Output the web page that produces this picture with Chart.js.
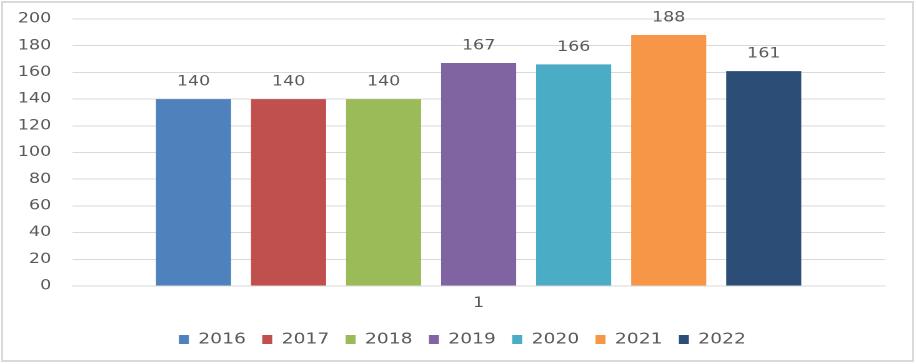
<!DOCTYPE html>
<html>
<head>
<meta charset="utf-8">
<script src="https://cdn.jsdelivr.net/npm/chart.js@4.4.0/dist/chart.umd.min.js"></script>
<style>
  html, body { margin: 0; padding: 0; background: #fff; overflow: hidden; }
  #frame {
    position: absolute; left: 1px; top: 1px; width: 909px; height: 357px;
    border: 2px solid #d9d9d9; pointer-events: none;
  }
  #wrap {
    position: absolute; left: 0; top: 0; width: 733px; height: 364px;
    transform: scaleX(1.2497); transform-origin: 0 0;
  }
</style>
</head>
<body>
<div id="wrap"><canvas id="myChart"></canvas></div>
<div id="frame"></div>
<script>
const categories = ["1"];
const years = ["2016", "2017", "2018", "2019", "2020", "2021", "2022"];
const values = [140, 140, 140, 167, 166, 188, 161];
const yTicks = [0, 20, 40, 60, 80, 100, 120, 140, 160, 180, 200];

const palette = ['#4F81BD', '#C0504D', '#9BBB59', '#8064A2', '#4BACC6', '#F79646', '#2C4D75'];
const textColor = '#595959';
const gridColor = '#d9d9d9';

Chart.defaults.font.family = '"DejaVu Sans", Verdana, sans-serif';
Chart.defaults.font.size = 14;
Chart.defaults.color = textColor;

// numbers above each bar
const barValues = {
  id: 'barValues',
  afterDatasetsDraw(chart) {
    const ctx = chart.ctx;
    ctx.save();
    ctx.font = '14px "DejaVu Sans", Verdana, sans-serif';
    ctx.fillStyle = textColor;
    ctx.textAlign = 'center';
    ctx.textBaseline = 'middle';
    chart.data.datasets.forEach(function (ds, i) {
      chart.getDatasetMeta(i).data.forEach(function (bar, j) {
        ctx.fillText(String(ds.data[j]), bar.x, bar.y - 17);
      });
    });
    ctx.restore();
  }
};

// legend sits centred under the plot, not the whole canvas
const legendShift = {
  id: 'legendShift',
  afterLayout(chart) {
    chart.legend.left += 16;
    chart.legend.right += 16;
  }
};

const ctx = document.getElementById('myChart').getContext('2d');

const chart = new Chart(ctx, {
  type: 'bar',
  data: {
    labels: categories,
    datasets: years.map(function (year, i) {
      return {
        label: year,
        data: [values[i]],
        backgroundColor: palette[i],
        borderWidth: 0,
        barPercentage: 0.79,
        categoryPercentage: 0.819,
      };
    }),
  },
  options: {
    responsive: true,
    maintainAspectRatio: false,
    animation: false,
    devicePixelRatio: 2,
    layout: {
      padding: { left: 0, right: 25, top: 19, bottom: 7 },
    },
    scales: {
      x: {
        afterFit: function (axis) {
          axis.height = 33;
        },
        grid: { display: false },
        border: { display: true, color: gridColor },
        ticks: { padding: 1, color: textColor },
      },
      y: {
        min: 0,
        max: 200,
        afterBuildTicks: function (axis) {
          axis.ticks = yTicks.map(function (v) { return { value: v }; });
        },
        afterFit: function (axis) {
          axis.width = 58;
        },
        grid: { color: gridColor, drawTicks: true, tickLength: 17, tickColor: 'rgba(0,0,0,0)' },
        border: { display: false },
        ticks: { padding: 0, color: textColor },
      },
    },
    plugins: {
      legend: {
        position: 'bottom',
        labels: {
          boxWidth: 8,
          boxHeight: 9,
          padding: 13,
          color: textColor,
          font: { size: 15 },
        },
      },
      tooltip: { enabled: false },
    },
  },
  plugins: [barValues, legendShift],
});
</script>
</body>
</html>
